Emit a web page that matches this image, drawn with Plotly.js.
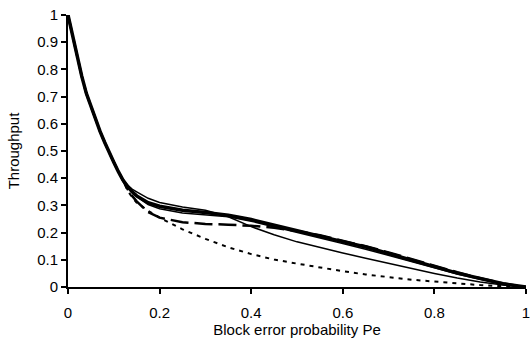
<!DOCTYPE html>
<html>
<head>
<meta charset="utf-8">
<script src="https://cdn.plot.ly/plotly-3.0.1.min.js"></script>
<style>html,body{margin:0;padding:0;background:#fff}#chart{width:530px;height:338px}</style>
</head>
<body>
<div id="chart"></div>
<script>
// Block error probability Pe (x values)
const pe = [0,0.01,0.02,0.03,0.04,0.05,0.06,0.07,0.08,0.09,0.10,0.11,0.12,
            0.13,0.14,0.15,0.175,0.2,0.25,0.3,0.35,0.4,0.45,0.5,0.55,0.6,0.65,0.7,0.75,0.8,0.85,0.9,0.95,1];
// shared head of all curves (Pe 0 .. 0.12)
const head = [1,0.923,0.846,0.775,0.712,0.666,0.614,0.572,0.532,0.493,0.459,0.424,0.393];
// tails of each series (Pe 0.13 .. 1)
const thickTail  = [0.37,0.35,0.335,0.31,0.297,0.282,0.274,0.264,0.248,0.227,0.206,0.186,0.167,0.147,0.124,0.1,0.075,0.051,0.03,0.012,0];
const thinATail  = [0.375,0.36,0.35,0.326,0.311,0.294,0.282,0.258,0.222,0.192,0.166,0.145,0.125,0.106,0.087,0.068,0.05,0.033,0.018,0.007,0];
const thinBTail  = [0.368,0.348,0.332,0.303,0.288,0.272,0.266,0.258,0.242,0.222,0.2,0.18,0.16,0.139,0.117,0.094,0.071,0.048,0.028,0.011,0];
const dashTail   = [0.36,0.335,0.315,0.275,0.255,0.238,0.232,0.229,0.225,0.218,0.206,0.19,0.171,0.15,0.127,0.102,0.078,0.054,0.032,0.013,0];
const dotTail    = [0.355,0.33,0.31,0.28,0.255,0.212,0.177,0.146,0.121,0.101,0.086,0.071,0.058,0.046,0.036,0.027,0.02,0.013,0.007,0.003,0];

const xTicks = [0,0.2,0.4,0.6,0.8,1];
const xTickText = ['0','0.2','0.4','0.6','0.8','1'];
const yTicks = [0,0.1,0.2,0.3,0.4,0.5,0.6,0.7,0.8,0.9,1];
const yTickText = ['0','0.1','0.2','0.3','0.4','0.5','0.6','0.7','0.8','0.9','1'];

function tr(tail, width, dash){
  return {x: pe, y: head.concat(tail), mode:'lines', type:'scatter', cliponaxis:false,
          line:{color:'#000', width:width, dash:dash||'solid'}, hoverinfo:'skip'};
}
const data = [
  tr(dotTail, 2, '4px,5px'),
  tr(thinATail, 1.5),
  tr(thinBTail, 1.5),
  tr(dashTail, 2.5, '18px,6px'),
  tr(thickTail, 3.5)
];
const font = {family:'Liberation Sans, Arial, sans-serif', size:15, color:'#000'};
const layout = {
  width:530, height:338,
  margin:{l:68, r:4, t:15, b:51},
  paper_bgcolor:'#fff', plot_bgcolor:'#fff',
  showlegend:false, font:font,
  xaxis:{range:[0,1], tickvals:xTicks, ticktext:xTickText, showgrid:false, zeroline:false,
         showline:true, linecolor:'#000', linewidth:2, ticks:'outside', ticklen:5, tickwidth:2, tickcolor:'#000',
         ticklabelstandoff:6, ticklabeloverflow:'allow',
         title:{text:'Block error probability Pe', font:font, standoff:0}},
  yaxis:{range:[0,1], tickvals:yTicks, ticktext:yTickText, showgrid:false, zeroline:false,
         showline:true, linecolor:'#000', linewidth:2, ticks:'outside', ticklen:5, tickwidth:2, tickcolor:'#000',
         ticklabeloverflow:'allow',
         title:{text:'Throughput', font:font, standoff:14}}
};
Plotly.newPlot('chart', data, layout, {displayModeBar:false, staticPlot:true});
</script>
</body>
</html>
